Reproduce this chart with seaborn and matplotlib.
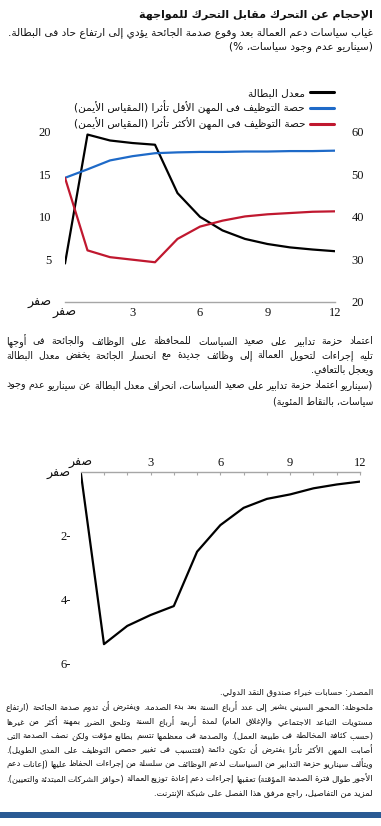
import re
import matplotlib
matplotlib.use("Agg")
import matplotlib.pyplot as plt
import seaborn as sns
import pandas as pd
from matplotlib.patches import Rectangle

# ---------------- data ----------------
quarters = list(range(13))
unemployment = [4.5, 19.7, 19.0, 18.7, 18.5, 12.8, 10.0, 8.4, 7.4, 6.8, 6.4, 6.15, 5.95]
share_less = [49.2, 51.2, 53.3, 54.3, 55.0, 55.2, 55.3, 55.3, 55.4, 55.4, 55.5, 55.5, 55.6]
share_more = [49.2, 32.1, 30.5, 29.9, 29.3, 34.8, 37.7, 39.1, 40.1, 40.6, 40.9, 41.2, 41.3]
deviation = [0.0, -5.38, -4.81, -4.47, -4.19, -2.49, -1.66, -1.12, -0.84, -0.70, -0.51, -0.39, -0.30]

legend_labels = ["معدل البطالة",
                 "حصة التوظيف فى المهن الأقل تأثرا (المقياس الأيمن)",
                 "حصة التوظيف فى المهن الأكثر تأثرا (المقياس الأيمن)"]
x_ticks = [0, 3, 6, 9, 12]
x_ticklabels = ["صفر", "3", "6", "9", "12"]
left_ticks = [0, 5, 10, 15, 20]
left_ticklabels = ["صفر", "5", "10", "15", "20"]
right_ticks = [20, 30, 40, 50, 60]
right_ticklabels = ["20", "30", "40", "50", "60"]
dev_ticks = [0, -2, -4, -6]
dev_ticklabels = ["صفر", "2-", "4-", "6-"]

title = "الإحجام عن التحرك مقابل التحرك للمواجهة"
subtitle = ["غياب سياسات دعم العمالة بعد وقوع صدمة الجائحة يؤدي إلى ارتفاع حاد فى البطالة.",
            "(سيناريو عدم وجود سياسات، %)"]
para2 = [("اعتماد حزمة تدابير على صعيد السياسات للمحافظة على الوظائف والجائحة فى أوجها", True),
         ("تليه إجراءات لتحويل العمالة إلى وظائف جديدة مع انحسار الجائحة يخفض معدل البطالة", True),
         ("ويعجل بالتعافي.", False),
         ("(سيناريو اعتماد حزمة تدابير على صعيد السياسات، انحراف معدل البطالة عن سيناريو عدم وجود", True),
         ("سياسات، بالنقاط المئوية)", False)]
notes = [("المصدر: حسابات خبراء صندوق النقد الدولي.", False),
         ("ملحوظة: المحور السيني يشير إلى عدد أرباع السنة بعد بدء الصدمة. ويفترض أن تدوم صدمة الجائحة (ارتفاع", True),
         ("مستويات التباعد الاجتماعي والإغلاق العام) لمدة أربعة أرباع السنة وتلحق الضرر بمهنة أكثر من غيرها", True),
         ("(حسب كثافة المخالطة فى طبيعة العمل). والصدمة فى معظمها تتسم بطابع مؤقت ولكن نصف الصدمة التى", True),
         ("أصابت المهن الأكثر تأثرا يفترض أن تكون دائمة (فتتسبب فى تغيير حصص التوظيف على المدى الطويل).", True),
         ("ويتألف سيناريو حزمة التدابير من السياسات لدعم الوظائف من سلسلة من إجراءات الحفاظ عليها (إعانات دعم", True),
         ("الأجور طوال فترة الصدمة المؤقتة) تعقبها إجراءات دعم إعادة توزيع العمالة (حوافز الشركات المبتدئة والتعيين).", True),
         ("لمزيد من التفاصيل، راجع مرفق هذا الفصل على شبكة الإنترنت.", False)]

# ---------------- Arabic shaping + simple bidi ----------------
_AR = [('\u0621', 0xFE80, 1), ('\u0622', 0xFE81, 2), ('\u0623', 0xFE83, 2), ('\u0624', 0xFE85, 2),
       ('\u0625', 0xFE87, 2), ('\u0626', 0xFE89, 4), ('\u0627', 0xFE8D, 2), ('\u0628', 0xFE8F, 4),
       ('\u0629', 0xFE93, 2), ('\u062A', 0xFE95, 4), ('\u062B', 0xFE99, 4), ('\u062C', 0xFE9D, 4),
       ('\u062D', 0xFEA1, 4), ('\u062E', 0xFEA5, 4), ('\u062F', 0xFEA9, 2), ('\u0630', 0xFEAB, 2),
       ('\u0631', 0xFEAD, 2), ('\u0632', 0xFEAF, 2), ('\u0633', 0xFEB1, 4), ('\u0634', 0xFEB5, 4),
       ('\u0635', 0xFEB9, 4), ('\u0636', 0xFEBD, 4), ('\u0637', 0xFEC1, 4), ('\u0638', 0xFEC5, 4),
       ('\u0639', 0xFEC9, 4), ('\u063A', 0xFECD, 4), ('\u0641', 0xFED1, 4), ('\u0642', 0xFED5, 4),
       ('\u0643', 0xFED9, 4), ('\u0644', 0xFEDD, 4), ('\u0645', 0xFEE1, 4), ('\u0646', 0xFEE5, 4),
       ('\u0647', 0xFEE9, 4), ('\u0648', 0xFEED, 2), ('\u0649', 0xFEEF, 2), ('\u064A', 0xFEF1, 4)]
FORMS = {c: (b, n) for c, b, n in _AR}
LAMALEF = {'\u0622': 0xFEF5, '\u0623': 0xFEF7, '\u0625': 0xFEF9, '\u0627': 0xFEFB}
MIRROR = {'(': ')', ')': '(', '[': ']', ']': '[', '{': '}', '}': '{'}


def _dual(c):
    return c in FORMS and FORMS[c][1] == 4


def _joins(c):
    return c in FORMS and FORMS[c][1] >= 2


def shape(s):
    out, i, n = [], 0, len(s)
    while i < n:
        c = s[i]
        if c not in FORMS:
            out.append(c); i += 1; continue
        prev = s[i - 1] if i > 0 else ''
        jp = _dual(prev) and _joins(c)
        if c == '\u0644' and i + 1 < n and s[i + 1] in LAMALEF:
            out.append(chr(LAMALEF[s[i + 1]] + (1 if jp else 0))); i += 2; continue
        nxt = s[i + 1] if i + 1 < n else ''
        jn = _dual(c) and _joins(nxt)
        b, k = FORMS[c]
        if k == 1:
            out.append(chr(b))
        elif k == 2:
            out.append(chr(b + 1 if jp else b))
        else:
            out.append(chr(b + 3 if (jp and jn) else b + 1 if jp else b + 2 if jn else b))
        i += 1
    return ''.join(out)


def ar(s):
    s = shape(s)
    parts = re.findall(r'[0-9A-Za-z]+(?:[.,][0-9]+)*|[^0-9A-Za-z]+', s)
    out = []
    for p in reversed(parts):
        if re.match(r'[0-9A-Za-z]', p):
            out.append(p)
        else:
            out.append(''.join(MIRROR.get(ch, ch) for ch in reversed(p)))
    return ''.join(out)


# ---------------- figure ----------------
sns.set_theme(style="white")
plt.rcParams['font.family'] = ['DejaVu Sans']
W, H = 381, 826
fig = plt.figure(figsize=(W / 100, H / 100), dpi=100)
fig.patch.set_facecolor("white")
renderer = fig.canvas.get_renderer()

TXT = "#111111"
NUMFAM = ['Liberation Serif', 'DejaVu Sans']
GREY = "#a6a6a6"
X0, X1 = 6, 373


def fy(y):
    return 1 - y / H


def text_width(s, size, **kw):
    t = fig.text(0, 0, ar(s), fontsize=size, **kw)
    w = t.get_window_extent(renderer).width
    t.remove()
    return w


def fit_size(lines, base, mingap, **kw):
    """Largest size <= base so that every justified line fits with a minimum word gap."""
    size = base
    for txt, just in lines:
        words = txt.split(' ')
        if just:
            wsum = sum(text_width(w, base, **kw) for w in words)
            avail = (X1 - X0) - mingap * (len(words) - 1)
        else:
            wsum = text_width(txt, base, **kw)
            avail = X1 - X0
        size = min(size, base * avail / wsum)
    return size


def draw_line(text, y, size, justify=False, **kw):
    if not justify:
        fig.text(X1 / W, fy(y), ar(text), ha='right', va='center', fontsize=size, color=TXT, **kw)
        return
    words = text.split(' ')
    arts = [fig.text(0, fy(y), ar(w), ha='left', va='center', fontsize=size, color=TXT, **kw) for w in words]
    widths = [a.get_window_extent(renderer).width for a in arts]
    gap = (X1 - X0 - sum(widths)) / max(len(words) - 1, 1)
    x = X1
    for a, w in zip(arts, widths):
        x -= w
        a.set_x(x / W)
        x -= gap


# titles
title_size = 9.6 * 238 / text_width(title, 9.6, fontweight='bold')
draw_line(title, 15, title_size, fontweight='bold')
sub_size = 7.3 * 366 / text_width(subtitle[0], 7.3)
draw_line(subtitle[0], 32.5, sub_size)
draw_line(subtitle[1], 46.5, sub_size)

# ---------------- chart 1 ----------------
ax1 = fig.add_axes([65 / W, fy(301.7), 270 / W, (301.7 - 132) / H])
ax2 = ax1.twinx()
df1 = pd.DataFrame({"q": quarters, "u": unemployment, "less": share_less, "more": share_more})
sns.lineplot(data=df1, x="q", y="u", ax=ax1, color="#000000", linewidth=1.6, label=ar(legend_labels[0]), legend=False)
sns.lineplot(data=df1, x="q", y="less", ax=ax2, color="#1e6ac8", linewidth=1.6, label=ar(legend_labels[1]), legend=False)
sns.lineplot(data=df1, x="q", y="more", ax=ax2, color="#c0182f", linewidth=1.6, label=ar(legend_labels[2]), legend=False)
ax1.set_xlim(0, 12)
ax1.set_ylim(0, 20)
ax2.set_ylim(20, 60)
for a in (ax1, ax2):
    a.set_xlabel("")
    a.set_ylabel("")
    a.set_facecolor("none")
    for s in a.spines.values():
        s.set_visible(False)
ax1.spines['bottom'].set_visible(True)
ax1.spines['bottom'].set_color(GREY)
ax1.spines['bottom'].set_linewidth(1.0)
ax1.set_xticks(quarters, minor=True)
ax1.set_xticks(x_ticks)
ax1.set_xticklabels([ar(t) for t in x_ticklabels], family=NUMFAM, fontsize=9, color=TXT)
ax1.tick_params(axis='x', which='both', direction='in', length=2.5, width=0.8, color=GREY, pad=4)
ax1.set_yticks(left_ticks)
ax1.set_yticklabels([ar(t) for t in left_ticklabels], family=NUMFAM, fontsize=9, color=TXT)
ax1.tick_params(axis='y', length=0, pad=10)
ax2.set_yticks(right_ticks)
ax2.set_yticklabels(right_ticklabels, family=NUMFAM, fontsize=9, color=TXT)
ax2.tick_params(axis='y', length=0, pad=12)

handles = ax1.get_lines()[:1] + ax2.get_lines()[:2]
leg = ax1.legend(handles=handles, labels=[ar(t) for t in legend_labels], loc='upper right',
                 bbox_to_anchor=(334 / W, fy(88)), bbox_transform=fig.transFigure,
                 markerfirst=False, frameon=False, fontsize=sub_size, handlelength=2.3,
                 handletextpad=0.45, labelspacing=0.22, borderpad=0, borderaxespad=0)
for t in leg.get_texts():
    t.set_color(TXT)
for l in leg.get_lines():
    l.set_linewidth(2.2)

# ---------------- paragraph 2 ----------------
p2_size = fit_size(para2, sub_size, 2.4)
for (txt, just), y in zip(para2, [341, 355.5, 370, 385, 401, 418]):
    draw_line(txt, y, p2_size, justify=just)

# ---------------- chart 2 ----------------
ax3 = fig.add_axes([80.7 / W, fy(664), (360 - 80.7) / W, 192 / H])
df2 = pd.DataFrame({"q": quarters, "d": deviation})
sns.lineplot(data=df2, x="q", y="d", ax=ax3, color="#000000", linewidth=1.6)
ax3.set_xlim(0, 12)
ax3.set_ylim(-6, 0)
ax3.set_xlabel("")
ax3.set_ylabel("")
ax3.set_facecolor("none")
for s in ax3.spines.values():
    s.set_visible(False)
ax3.spines['top'].set_visible(True)
ax3.spines['top'].set_color(GREY)
ax3.spines['top'].set_linewidth(1.0)
ax3.xaxis.tick_top()
ax3.set_xticks(quarters, minor=True)
ax3.set_xticks(x_ticks)
ax3.set_xticklabels([ar(t) for t in x_ticklabels], family=NUMFAM, fontsize=9, color=TXT)
ax3.tick_params(axis='x', which='both', direction='in', length=2.5, width=0.8, color=GREY, pad=2,
                top=True, bottom=False, labeltop=True, labelbottom=False)
ax3.set_yticks(dev_ticks)
ax3.set_yticklabels([ar(t) if not t[0].isdigit() else t for t in dev_ticklabels], family=NUMFAM,
                    fontsize=9, color=TXT)
ax3.tick_params(axis='y', length=0, pad=7)

# ---------------- notes ----------------
notes_size = fit_size(notes, sub_size, 1.8)
for (txt, just), y in zip(notes, [692, 707, 721.5, 736, 750, 764, 778.5, 793]):
    draw_line(txt, y, notes_size, justify=just)

fig.patches.append(Rectangle((0, fy(817.5)), 1, 5.5 / H, transform=fig.transFigure,
                             facecolor="#2a5a94", edgecolor="none", figure=fig))

fig.savefig("out.png", dpi=100, facecolor="white")
